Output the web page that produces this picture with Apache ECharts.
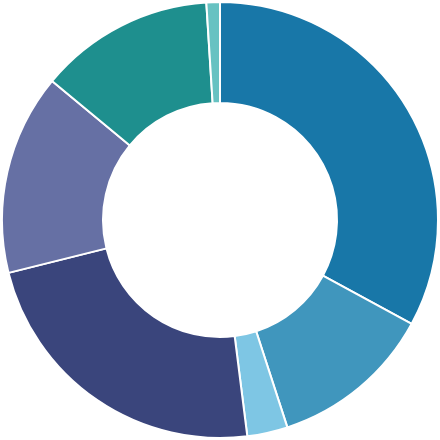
<!DOCTYPE html>
<html>
<head>
<meta charset="utf-8">
<script src="https://cdn.jsdelivr.net/npm/echarts@6/dist/echarts.min.js"></script>
<style>
  html, body {margin: 0; padding: 0; background: #fff;}
  #chart {width: 440px; height: 440px;}
</style>
</head>
<body>
<div id="chart"></div>
<script>
// slice shares, clockwise from 12 o'clock
var names = ['A', 'B', 'C', 'D', 'E', 'F', 'G'];
var values = [32.9, 12.1, 3.0, 23.1, 14.9, 13.0, 1.0];
var colors = ['#1877a8', '#4096bd', '#7ec6e4', '#3a457c', '#6670a4', '#1e8f8e', '#67c2c2'];

document.addEventListener("DOMContentLoaded", () => {
  var chart = echarts.init(document.getElementById('chart'));
  chart.setOption({
    animation: false,
    color: colors,
    series: [{
      type: 'pie',
      center: [220, 220],
      radius: [117, 218],
      startAngle: 90,
      clockwise: true,
      label: {show: false},
      labelLine: {show: false},
      itemStyle: {borderColor: '#fff', borderWidth: 2},
      data: names.map(function (n, i) {
        return {name: n, value: values[i]};
      })
    }]
  });
});
</script>
</body>
</html>
